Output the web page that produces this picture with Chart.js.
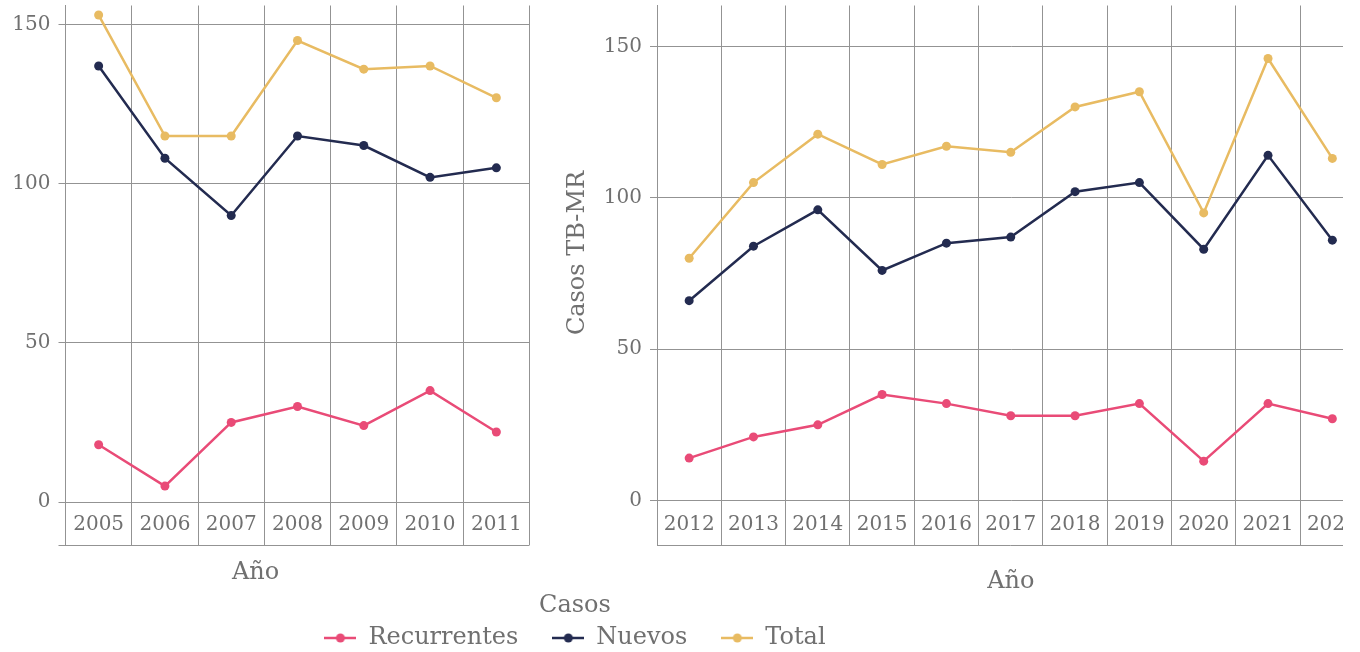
<!DOCTYPE html>
<html lang="es">
<head>
<meta charset="utf-8">
<title>Casos TB-MR por año</title>
<script src="https://cdn.jsdelivr.net/npm/chart.js@4.4.1/dist/chart.umd.min.js"></script>
<style>
    html, body { margin: 0; padding: 0; background: #fff; overflow: hidden; }
    #fig { position: relative; width: 1343px; height: 652px; overflow: hidden; }
    .panel { position: absolute; top: 0; }
    #left { left: -100px; width: 634px; height: 652px; }
    #right { left: -219px; width: 1588px; height: 660px; }
</style>
</head>
<body>
<div id="fig">
    <div class="panel" id="left"><canvas id="chartA"></canvas></div>
    <div class="panel" id="right"><canvas id="chartB"></canvas></div>
</div>
<script>
// first period
const yearsA = ['2005', '2006', '2007', '2008', '2009', '2010', '2011'];
const recurrentesA = [18, 5, 25, 30, 24, 35, 22];
const nuevosA = [137, 108, 90, 115, 112, 102, 105];
const totalA = [153, 115, 115, 145, 136, 137, 127];

// second period
const yearsB = ['2012', '2013', '2014', '2015', '2016', '2017', '2018', '2019', '2020', '2021', '2022'];
const recurrentesB = [14, 21, 25, 35, 32, 28, 28, 32, 13, 32, 27];
const nuevosB = [66, 84, 96, 76, 85, 87, 102, 105, 83, 114, 86];
const totalB = [80, 105, 121, 111, 117, 115, 130, 135, 95, 146, 113];

const seriesNames = ['Recurrentes', 'Nuevos', 'Total'];
const yTicks = [0, 50, 100, 150];

const colors = ['#e94b77', '#232b50', '#e8bb62'];
const gridColor = '#939393';
const textColor = '#707070';
const fontFamily = "'DejaVu Serif', serif";

// horizontal rule closing the band of year labels
const bottomRule = {
    id: 'bottomRule',
    afterDraw(chart, args, opts) {
        const {ctx, chartArea, scales} = chart;
        const y = Math.round(scales.x.top + scales.x.options.grid.tickLength) + 0.5;
        ctx.save();
        ctx.strokeStyle = gridColor;
        ctx.lineWidth = 1;
        ctx.beginPath();
        ctx.moveTo(chartArea.left - (opts.extend || 0), y);
        ctx.lineTo(chartArea.right, y);
        ctx.stroke();
        ctx.restore();
    }
};

// legend swatch: short line with a dot on it
function swatch(color) {
    const c = document.createElement('canvas');
    c.width = 32;
    c.height = 12;
    const g = c.getContext('2d');
    g.strokeStyle = color;
    g.lineWidth = 2.5;
    g.beginPath();
    g.moveTo(0, 6);
    g.lineTo(32, 6);
    g.stroke();
    g.fillStyle = color;
    g.beginPath();
    g.arc(16, 6, 4.5, 0, Math.PI * 2);
    g.fill();
    return c;
}

function makeDatasets(rec, nue, tot) {
    return [rec, nue, tot].map((data, i) => ({
        label: seriesNames[i],
        data: data,
        borderColor: colors[i],
        backgroundColor: colors[i],
        pointBackgroundColor: colors[i],
        pointBorderWidth: 0,
        pointRadius: 4.5,
        borderWidth: 2.5,
        tension: 0
    }));
}

function panelOptions(p) {
    return {
        responsive: true,
        maintainAspectRatio: false,
        animation: false,
        layout: { padding: p.padding },
        plugins: {
            tooltip: { enabled: false },
            bottomRule: { extend: p.ruleExtend },
            legend: p.legend || { display: false }
        },
        scales: {
            x: {
                offset: true,
                grid: { offset: true, color: gridColor, lineWidth: 1, tickLength: p.tickLength },
                border: { display: false },
                ticks: {
                    color: textColor,
                    font: { family: fontFamily, size: 20 },
                    padding: -32,
                    maxRotation: 0,
                    autoSkip: false
                },
                title: {
                    display: true,
                    text: p.xTitle,
                    color: textColor,
                    font: { family: fontFamily, size: 24, lineHeight: 1 },
                    padding: { top: 0, bottom: 0 }
                },
                afterFit: (scale) => { scale.height = p.xHeight; }
            },
            y: {
                min: 0,
                max: p.yMax,
                grid: { color: gridColor, lineWidth: 1, tickLength: 7 },
                border: { display: true, color: gridColor, width: 1 },
                ticks: {
                    color: textColor,
                    font: { family: fontFamily, size: 20 },
                    padding: 8
                },
                afterBuildTicks: (scale) => { scale.ticks = yTicks.map(v => ({ value: v })); },
                title: {
                    display: true,
                    text: 'Casos TB-MR',
                    color: textColor,
                    font: { family: fontFamily, size: 24, lineHeight: 1 },
                    padding: { top: p.yTitlePad, bottom: 0 }
                },
                afterFit: (scale) => {
                    scale.width = p.yWidth;
                    scale.paddingTop = 0;
                    scale.paddingBottom = 0;
                }
            }
        }
    };
}

new Chart(document.getElementById('chartA'), {
    type: 'line',
    data: { labels: yearsA, datasets: makeDatasets(recurrentesA, nuevosA, totalA) },
    options: panelOptions({
        padding: { top: 5.5, bottom: 67, left: 0, right: 2 },
        tickLength: 43,
        xHeight: 83,
        xTitle: 'Año' + ' '.repeat(11),
        yMax: 156,
        yWidth: 165.5,
        yTitlePad: 74.5,
        ruleExtend: 7
    }),
    plugins: [bottomRule]
});

new Chart(document.getElementById('chartB'), {
    type: 'line',
    data: { labels: yearsB, datasets: makeDatasets(recurrentesB, nuevosB, totalB) },
    options: panelOptions({
        padding: { top: 5.5, bottom: 0, left: 0, right: 0 },
        tickLength: 44.5,
        xHeight: 93.5,
        xTitle: 'Año',
        yMax: 163.5,
        yWidth: 876,
        yTitlePad: 785,
        ruleExtend: 0,
        legend: {
            display: true,
            position: 'bottom',
            align: 'center',
            title: {
                display: true,
                text: 'Casos',
                color: textColor,
                font: { family: fontFamily, size: 24, lineHeight: 1 },
                padding: { top: 0, bottom: -26 }
            },
            labels: {
                color: textColor,
                font: { family: fontFamily, size: 24, lineHeight: 1 },
                usePointStyle: true,
                pointStyleWidth: 32,
                padding: 34,
                generateLabels(chart) {
                    const items = Chart.defaults.plugins.legend.labels.generateLabels(chart);
                    items.forEach((item, i) => { item.pointStyle = swatch(colors[i]); });
                    return items;
                }
            }
        }
    }),
    plugins: [bottomRule]
});
</script>
</body>
</html>
